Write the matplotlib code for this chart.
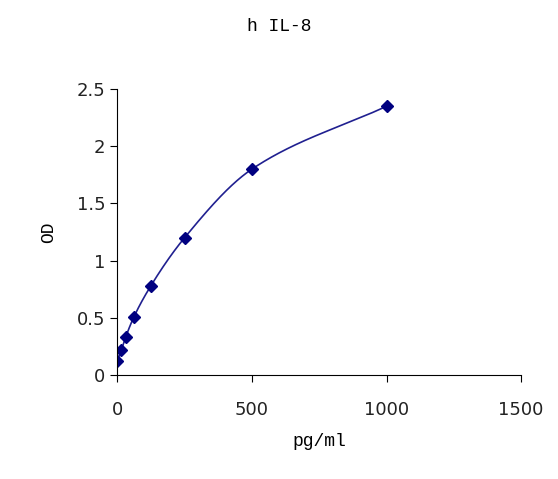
import numpy as np
import matplotlib
matplotlib.use("Agg")
import matplotlib.pyplot as plt

conc = [0, 15.6, 31.25, 62.5, 125, 250, 500, 1000]
od = [0.12, 0.22, 0.33, 0.51, 0.78, 1.20, 1.80, 2.35]
xticks = [0, 500, 1000, 1500]
yticks = [0, 0.5, 1, 1.5, 2, 2.5]

def pchip(x, y, xs):
    x = np.asarray(x, float); y = np.asarray(y, float)
    h = np.diff(x); d = np.diff(y) / h
    m = np.zeros_like(y)
    for k in range(1, len(x) - 1):
        if d[k-1] * d[k] > 0:
            w1 = 2*h[k] + h[k-1]; w2 = h[k] + 2*h[k-1]
            m[k] = (w1 + w2) / (w1/d[k-1] + w2/d[k])
    m[0] = d[0]; m[-1] = d[-1]
    idx = np.clip(np.searchsorted(x, xs) - 1, 0, len(h) - 1)
    t = (xs - x[idx]) / h[idx]
    h00 = 2*t**3 - 3*t**2 + 1; h10 = t**3 - 2*t**2 + t
    h01 = -2*t**3 + 3*t**2; h11 = t**3 - t**2
    return h00*y[idx] + h10*h[idx]*m[idx] + h01*y[idx+1] + h11*h[idx]*m[idx+1]

fig = plt.figure(figsize=(5.58, 4.79), dpi=100)
ax = fig.add_axes([0.21, 0.217, 0.724, 0.597])
xs = np.linspace(conc[0], conc[-1], 600)
ax.plot(xs, pchip(conc, od, xs), color="#202090", lw=1.2)
ax.plot(conc, od, ls="none", marker="D", ms=6, color="#000080")
ax.set_xlim(0, 1500); ax.set_ylim(0, 2.5)
ax.set_xticks(xticks); ax.set_yticks(yticks)
ax.set_xticklabels([str(v) for v in xticks])
ax.set_yticklabels(["0", "0.5", "1", "1.5", "2", "2.5"])
for s in ["top", "right"]:
    ax.spines[s].set_visible(False)
ax.tick_params(labelsize=13, length=5, direction="out", labelcolor="#222222")
ax.tick_params(axis="x", pad=14)
ax.set_xlabel("pg/ml", fontsize=13, family="Liberation Mono", labelpad=10)
ax.set_ylabel("OD", fontsize=13, family="Liberation Mono", labelpad=14)
fig.text(0.5, 0.945, "h IL-8", ha="center", va="center", fontsize=13, family="Liberation Mono")
fig.savefig("out.png", dpi=100)
